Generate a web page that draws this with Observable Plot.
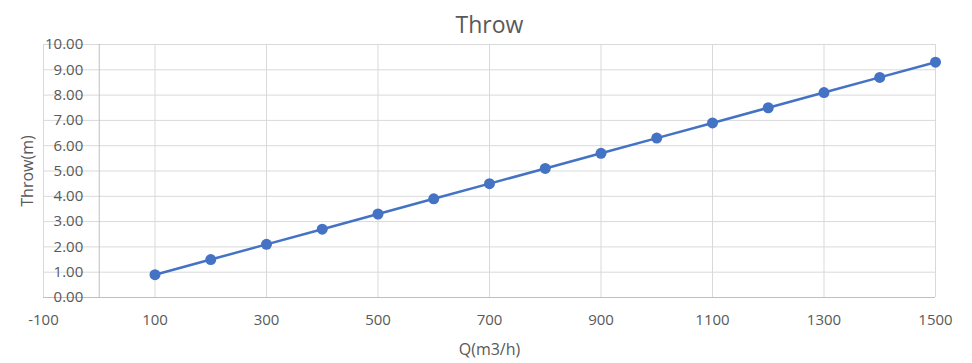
<!DOCTYPE html>
<html><head><meta charset="utf-8">
<script src="https://cdn.jsdelivr.net/npm/d3@7"></script>
<script src="https://cdn.jsdelivr.net/npm/@observablehq/plot@0.6"></script>
<style>body{margin:0;background:#fff;} svg{font-family:"Open Sans",sans-serif;}</style>
</head><body><div id="chart"></div>
<script>
const flow = [100,200,300,400,500,600,700,800,900,1000,1100,1200,1300,1400,1500];
const throwM = [0.9,1.5,2.1,2.7,3.3,3.9,4.5,5.1,5.7,6.3,6.9,7.5,8.1,8.7,9.3];
const xTicks = [-100,100,300,500,700,900,1100,1300,1500];
const yTicks = [0,1,2,3,4,5,6,7,8,9,10];
const data = flow.map((q,i)=>({q, t: throwM[i]}));
const gray = "#595959";
const chart = Plot.plot({
  width: 972, height: 363,
  marginLeft: 43, marginRight: 37, marginTop: 44, marginBottom: 66,
  x: {domain: [-100,1500], axis: null},
  y: {domain: [0,10], axis: null},
  marks: [
    Plot.ruleY(yTicks, {stroke:"#d9d9d9", strokeWidth:1}),
    Plot.ruleX(xTicks, {stroke:"#d9d9d9", strokeWidth:1}),
    Plot.ruleX([0], {stroke:"#bfbfbf", strokeWidth:1}),
    Plot.ruleY([0], {stroke:"#bfbfbf", strokeWidth:1}),
    Plot.text(yTicks, {x:0, y:d=>d, text:d=>d.toFixed(2), textAnchor:"end", dx:-16, fill:gray, fontSize:15}),
    Plot.text(xTicks, {x:d=>d, text:d=>String(d), frameAnchor:"bottom", lineAnchor:"middle", dy:23, fill:gray, fontSize:15}),
    Plot.line(data, {x:"q", y:"t", stroke:"#4472c4", strokeWidth:2.5}),
    Plot.dot(data, {x:"q", y:"t", r:5.5, fill:"#4472c4", stroke:"none"}),
    Plot.text(["Throw"], {frameAnchor:"top", lineAnchor:"middle", dy:-19, fill:gray, fontSize:23}),
    Plot.text(["Q(m3/h)"], {frameAnchor:"bottom", lineAnchor:"middle", dy:52, fill:gray, fontSize:16}),
    Plot.text(["Throw(m)"], {frameAnchor:"left", textAnchor:"middle", lineAnchor:"middle", dx:-16, rotate:-90, fill:gray, fontSize:16})
  ]
});
document.getElementById("chart").appendChild(chart);
</script></body></html>
